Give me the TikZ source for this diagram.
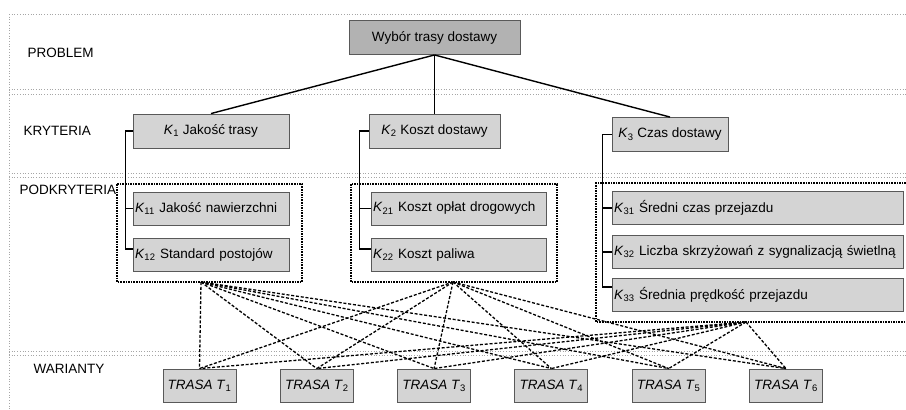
\documentclass[tikz,border=0pt]{standalone}
\usepackage{fontspec}
\setmainfont{Liberation Sans}
\colorlet{boxgray}{black!17}
\colorlet{topgray}{black!30}
\colorlet{bandgray}{black!35}

\begin{document}
\begin{tikzpicture}[x=1pt,y=-1pt,
	font=\fontsize{13.5}{16}\selectfont,
	crit/.style={draw=black!65,line width=.9pt,fill=boxgray,minimum height=34pt,inner sep=0pt,minimum width=#1},
	subcrit/.style={draw=black!65,line width=.9pt,fill=boxgray,minimum height=33pt,inner xsep=2pt,inner ysep=0pt,text width=#1,align=left},
	band/.style={bandgray,dotted,line width=.7pt},
	group/.style={line width=1.4pt,dash pattern=on 1.6pt off 1pt},
	link/.style={line width=1.3pt,dash pattern=on 3pt off 1.8pt}]
\useasboundingbox (0,0) rectangle (906,410);

\foreach \y in {14,89,94,173,177,351,355}
{
	\draw[band] (9,\y) -- (906,\y);
}
\draw[band] (9,14) -- (9,410);

\node[anchor=west] (problem) at (24,53) {PROBLEM};
\node[anchor=west] (kryteria) at (20,131) {KRYTERIA};
\node[anchor=west] (podkryteria) at (16,190) {PODKRYTERIA};
\node[anchor=west] (warianty) at (30,369) {WARIANTY};

\node[crit=171,fill=topgray] (main) at (434.5,37.5) {Wybór trasy dostawy};
\node[crit=156] (K1) at (211,131) {\textit{K}\textsubscript{1} Jakość trasy};
\node[crit=131] (K2) at (434.5,131) {\textit{K}\textsubscript{2} Koszt dostawy};
\node[crit=116] (K3) at (670,134.5) {\textit{K}\textsubscript{3} Czas dostawy};

\node[subcrit=152] (K11) at (211,208.5) {\textit{K}\textsubscript{11} Jakość nawierzchni};
\node[subcrit=152] (K12) at (211,255) {\textit{K}\textsubscript{12} Standard postojów};
\node[subcrit=171] (K21) at (458.5,208.5) {\textit{K}\textsubscript{21} Koszt opłat drogowych};
\node[subcrit=171] (K22) at (458.5,255) {\textit{K}\textsubscript{22} Koszt paliwa};
\node[subcrit=287] (K31) at (757.5,208) {\textit{K}\textsubscript{31} Średni czas przejazdu};
\node[subcrit=287] (K32) at (757.5,252) {\textit{K}\textsubscript{32} Liczba skrzyżowań z sygnalizacją świetlną};
\node[subcrit=287] (K33) at (757.5,295) {\textit{K}\textsubscript{33} Średnia prędkość przejazdu};

\foreach \i in {1,...,6}
{
	\node[crit=73,minimum height=33pt] (T\i) at ({199.5+117.3*(\i-1)},385.5) {\textit{TRASA T}\textsubscript{\i}};
}

\foreach \k in {1,2,3}
{
	\draw[line width=1.4pt] (main.south) -- (K\k.north);
}
\draw[line width=1.4pt] (K1.west) -- ++(-7,0) |- (K11.west);
\draw[line width=1.4pt] (K1.west) -- ++(-7,0) |- ([yshift=6pt]K12.west);
\draw[line width=1.4pt] (K2.west) -- ++(-9,0) |- (K21.west);
\draw[line width=1.4pt] (K2.west) -- ++(-9,0) |- ([yshift=6pt]K22.west);
\draw[line width=1.4pt] (K3.west) -- ++(-9,0) |- (K31.west);
\draw[line width=1.4pt] (K3.west) -- ++(-9,0) |- (K32.west);
\draw[line width=1.4pt] (K3.west) -- ++(-9,0) |- ([yshift=8pt]K33.west);

\draw[group] (117,184) rectangle (302,282);
\draw[group] (351,184) rectangle (557,282);
\draw[group] (906,183) -- (596,183) -- (596,322) -- (906,322);

\coordinate (s1) at (201,282);
\coordinate (s2) at (453,282);
\coordinate (s3) at (746,322);
\foreach \s in {1,2,3}
	\foreach \i in {1,...,6}
	{
		\draw[link] (s\s) -- (T\i.north);
	}

\end{tikzpicture}
\end{document}
